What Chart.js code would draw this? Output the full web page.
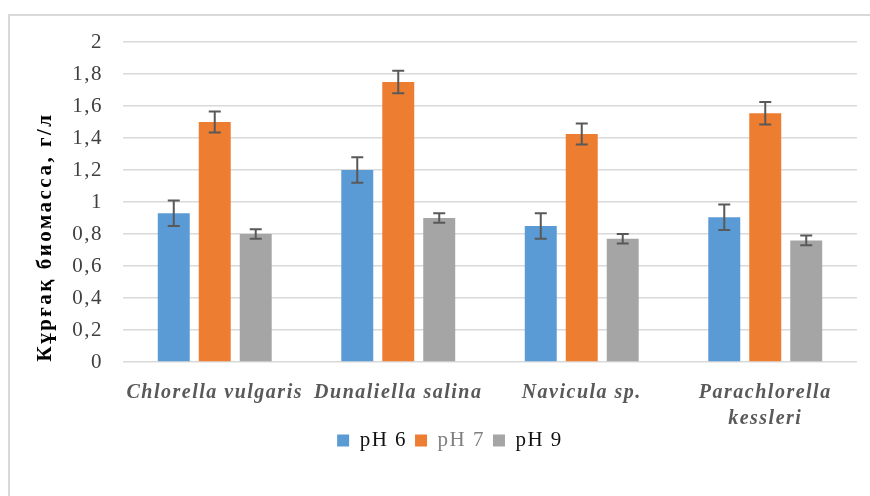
<!DOCTYPE html>
<html>
<head>
<meta charset="utf-8">
<script src="https://cdn.jsdelivr.net/npm/chart.js@4.4.1/dist/chart.umd.min.js"></script>
<style>
  body { margin: 0; background: #fff; }
  #wrap { position: relative; width: 870px; height: 496px; overflow: hidden; }
  #frame { position: absolute; left: 8px; top: 14px; width: 900px; height: 520px;
           border-left: 2px solid #d9d9d9; border-top: 2px solid #d9d9d9; }
  canvas { position: absolute; left: 0; top: 0; }
</style>
</head>
<body>
<div id="wrap">
  <div id="frame"></div>
  <canvas id="grafica" width="870" height="496"></canvas>
</div>
<script>
// datos
const especies = [['Chlorella vulgaris'], ['Dunaliella salina'], ['Navicula sp.'], ['Parachlorella', 'kessleri']];
const series = ['pH 6', 'pH 7', 'pH 9'];
const ph6 = [0.93, 1.20, 0.85, 0.905];
const ph7 = [1.50, 1.75, 1.425, 1.555];
const ph9 = [0.80, 0.90, 0.77, 0.76];
const err6 = [0.08, 0.08, 0.08, 0.08];
const err7 = [0.065, 0.07, 0.065, 0.07];
const err9 = [0.03, 0.03, 0.03, 0.03];
const yTicks = [0, 0.2, 0.4, 0.6, 0.8, 1, 1.2, 1.4, 1.6, 1.8, 2];

const colores = ['#5b9bd5', '#ed7d31', '#a5a5a5'];
const coloresLeyenda = ['#111111', '#7f7f7f', '#111111'];
const tituloY = 'Кұрғақ биомасса, г/л';

// espaciado de letras como en el original (Word)
const pluginEspaciado = {
    id: 'espaciado',
    beforeUpdate(chart) { chart.ctx.letterSpacing = '1.5px'; },
    // la segunda línea de "kessleri" baja hasta la leyenda: ampliamos el recorte del eje x
    afterLayout(chart) { chart.scales.x.bottom += 20; },
    beforeDraw(chart) { chart.ctx.letterSpacing = '1.5px'; }
};

// barras de error
const pluginErrores = {
    id: 'errores',
    afterDatasetsDraw(chart) {
        const ctx = chart.ctx;
        const y = chart.scales.y;
        const errs = [err6, err7, err9];
        ctx.save();
        ctx.strokeStyle = '#595959';
        ctx.lineWidth = 2;
        chart.data.datasets.forEach((ds, i) => {
            const meta = chart.getDatasetMeta(i);
            meta.data.forEach((bar, j) => {
                const v = ds.data[j], e = errs[i][j];
                const yt = y.getPixelForValue(v + e);
                const yb = y.getPixelForValue(v - e);
                ctx.beginPath();
                ctx.moveTo(bar.x, yt); ctx.lineTo(bar.x, yb);
                ctx.moveTo(bar.x - 6, yt); ctx.lineTo(bar.x + 6, yt);
                ctx.moveTo(bar.x - 6, yb); ctx.lineTo(bar.x + 6, yb);
                ctx.stroke();
            });
        });
        ctx.restore();
    }
};

// título del eje Y (desplazado como en el original)
const pluginTitulo = {
    id: 'tituloY',
    afterDraw(chart) {
        const ctx = chart.ctx;
        ctx.save();
        ctx.translate(46, 237);
        ctx.rotate(-Math.PI / 2);
        ctx.letterSpacing = '2.5px';
        ctx.font = 'bold 21px "Liberation Serif"';
        ctx.fillStyle = '#000';
        ctx.textAlign = 'center';
        ctx.textBaseline = 'middle';
        ctx.fillText(tituloY, 0, 0);
        ctx.restore();
    }
};

new Chart(document.getElementById('grafica'), {
    type: 'bar',
    data: {
        labels: especies,
        datasets: [
            { label: series[0], data: ph6, backgroundColor: colores[0] },
            { label: series[1], data: ph7, backgroundColor: colores[1] },
            { label: series[2], data: ph9, backgroundColor: colores[2] }
        ]
    },
    options: {
        responsive: false,
        devicePixelRatio: 1,
        animation: false,
        layout: { padding: { left: 43, right: 13, top: 42, bottom: 35 } },
        datasets: { bar: { categoryPercentage: 0.67, barPercentage: 0.78 } },
        scales: {
            x: {
                grid: { display: false },
                border: { display: false },
                ticks: {
                    autoSkip: false, maxRotation: 0, padding: 10,
                    color: '#595959',
                    font: { family: 'Liberation Serif', size: 20, style: 'italic', weight: 'bold', lineHeight: 1.3 }
                },
                afterFit(s) { s.height = 60; }
            },
            y: {
                min: 0, max: 2,
                afterBuildTicks(s) { s.ticks = yTicks.map(v => ({ value: v })); },
                grid: { color: '#d9d9d9', lineWidth: 1.5, drawTicks: false },
                border: { display: false },
                ticks: {
                    padding: 20,
                    color: '#404040',
                    font: { family: 'Liberation Serif', size: 21 },
                    callback: v => String(v).replace('.', ',')
                },
                afterFit(s) { s.width = 80; }
            }
        },
        plugins: {
            tooltip: { enabled: false },
            legend: {
                position: 'bottom',
                labels: {
                    boxWidth: 12, boxHeight: 12, padding: 8,
                    font: { family: 'Liberation Serif', size: 21 },
                    generateLabels(chart) {
                        const items = Chart.defaults.plugins.legend.labels.generateLabels(chart);
                        items.forEach((it, i) => { it.fontColor = coloresLeyenda[i]; it.lineWidth = 0; });
                        return items;
                    }
                }
            }
        }
    },
    plugins: [pluginEspaciado, pluginErrores, pluginTitulo]
});
</script>
</body>
</html>
